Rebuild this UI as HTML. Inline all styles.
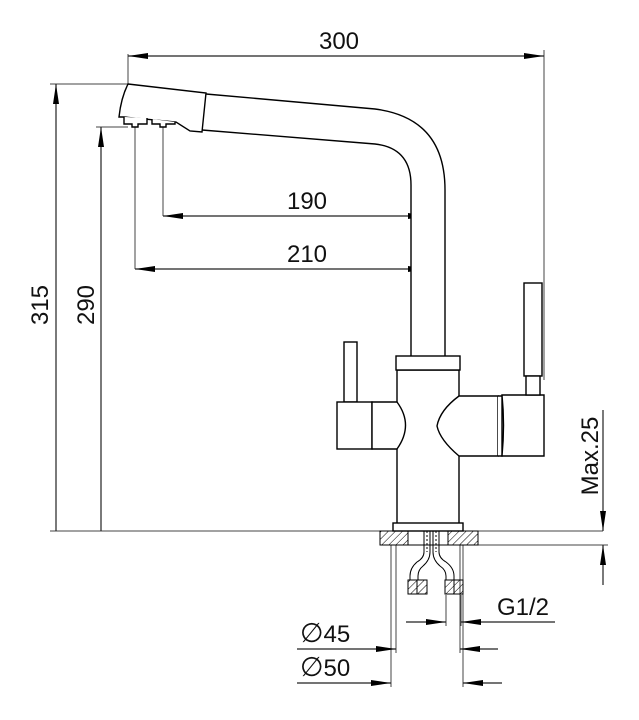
<!DOCTYPE html>
<html><head><style>html,body{margin:0;padding:0;background:#fff}svg{display:block}text{font-family:"Liberation Sans",sans-serif;font-size:24px;fill:#111}</style></head><body>
<svg width="639" height="720" viewBox="0 0 639 720" xmlns="http://www.w3.org/2000/svg">
<defs>
<marker id="a" viewBox="0 0 20 6" refX="20" refY="3" markerWidth="20" markerHeight="6" markerUnits="userSpaceOnUse" orient="auto-start-reverse"><path d="M0,0L20,3L0,6z" fill="#000"/></marker>
<pattern id="h" width="5" height="5" patternUnits="userSpaceOnUse" patternTransform="rotate(45)"><line x1="0" y1="0" x2="0" y2="5" stroke="#000" stroke-width="1"/></pattern>
</defs>
<g stroke="#444" stroke-width="1" fill="none">
<line x1="128" y1="54" x2="128" y2="84"/>
<line x1="544" y1="50" x2="544" y2="380"/>
<line x1="50" y1="84" x2="128" y2="84"/>
<line x1="96" y1="127" x2="128" y2="127"/>
<line x1="163" y1="127" x2="163" y2="216"/>
<line x1="135" y1="127" x2="135" y2="269"/>
<line x1="428" y1="210" x2="428" y2="368"/>
<line x1="50" y1="531" x2="603" y2="531"/>
<line x1="478" y1="545" x2="608" y2="545"/>
<line x1="391" y1="545" x2="391" y2="687"/>
<line x1="396" y1="545" x2="396" y2="653"/>
<line x1="460" y1="545" x2="460" y2="653"/>
<line x1="463" y1="545" x2="463" y2="687"/>
<line x1="446" y1="595" x2="446" y2="626"/>
<line x1="461" y1="595" x2="461" y2="626"/>
</g>
<g stroke="#222" stroke-width="1.2" fill="none">
<line x1="128" y1="56" x2="544" y2="56" marker-start="url(#a)" marker-end="url(#a)"/>
<line x1="56" y1="84" x2="56" y2="531" marker-start="url(#a)"/>
<line x1="101" y1="127" x2="101" y2="531" marker-start="url(#a)"/>
<line x1="163" y1="216" x2="428" y2="216" marker-start="url(#a)" marker-end="url(#a)"/>
<line x1="135" y1="269" x2="428" y2="269" marker-start="url(#a)" marker-end="url(#a)"/>
<line x1="603" y1="410" x2="603" y2="531" marker-end="url(#a)"/>
<line x1="603" y1="585" x2="603" y2="545" marker-end="url(#a)"/>
<line x1="406" y1="622" x2="446" y2="622" marker-end="url(#a)"/>
<line x1="555" y1="622" x2="461" y2="622" marker-end="url(#a)"/>
<line x1="297" y1="649" x2="396" y2="649" marker-end="url(#a)"/>
<line x1="498" y1="649" x2="460" y2="649" marker-end="url(#a)"/>
<line x1="297" y1="683" x2="391" y2="683" marker-end="url(#a)"/>
<line x1="502" y1="683" x2="463" y2="683" marker-end="url(#a)"/>
</g>
<g stroke="#000" stroke-width="1.4" fill="#fff">
<path d="M206,94 L375,109 Q445,118 445,190 L445,357 L411,357 L411,185 Q411,148 375,144 L202,130"/>
<path d="M128,84 L206,93 L202,132 L190,131 L176,122 L124,117 L119,117 Q121,98 128,84 Z"/>
<path d="M124,117 L124,124 L132,124 L132,127 L138,127 L138,124 L147,124 L147,118 M152,119 L152,124 L160,124 L160,127 L166,127 L166,124 L175,124 L175,122"/>
<path d="M397,370 L459,370 L459,396 M459,456 L459,524 L397,524 L397,449 M397,402 L397,370" />
<rect x="396" y="356" width="64" height="14"/>
<rect x="344" y="342" width="13" height="60"/>
<rect x="337" y="402" width="35" height="47"/>
<path d="M372,402 L397,402 Q414,425 397,449 L372,449 Z"/>
<path d="M459,396 L498,396 L498,456 L459,456 Q440,440 437,426 Q440,410 459,396 Z"/>
<path d="M498,396 L502,396 L502,456 L498,456"/>
<path d="M502,395 L544,395 L544,456 L502,456 Q505,425 502,395 Z"/>
<rect x="524" y="283" width="18" height="93"/>
<rect x="526" y="376" width="14" height="19"/>
<rect x="393" y="523" width="70" height="8"/>
</g>
<g stroke="#000" stroke-width="1">
<rect x="380" y="531" width="28" height="14" fill="url(#h)"/>
<rect x="448" y="531" width="30" height="14" fill="url(#h)"/>
<line x1="408" y1="531" x2="448" y2="531"/>
<line x1="408" y1="545" x2="448" y2="545"/>
</g>
<g stroke="#000" stroke-width="1" fill="none">
<path d="M424,531 L424,552 Q424,558 417,562 Q410,568 410,576 L410,580"/>
<path d="M430,531 L430,552 Q430,560 423,566 Q418,570 418,576 L418,580"/>
<path d="M433,531 L433,552 Q433,560 440,566 Q446,570 446,576 L446,580"/>
<path d="M439,531 L439,552 Q439,558 446,562 Q454,568 454,576 L454,580"/>
<path d="M427,531 L427,552 M436,531 L436,552" stroke-dasharray="2 2"/>
<rect x="408" y="580" width="19" height="14" fill="url(#h)"/>
<rect x="445" y="580" width="18" height="14" fill="url(#h)"/>
<line x1="417" y1="580" x2="417" y2="594"/>
<line x1="454" y1="580" x2="454" y2="594"/>
</g>
<text x="339" y="49" text-anchor="middle">300</text>
<text x="307" y="209" text-anchor="middle">190</text>
<text x="307" y="262" text-anchor="middle">210</text>
<text transform="translate(48,305) rotate(-90)" text-anchor="middle">315</text>
<text transform="translate(94,305) rotate(-90)" text-anchor="middle">290</text>
<text transform="translate(598,456) rotate(-90)" text-anchor="middle">Max.25</text>
<text x="497" y="615">G1/2</text>
<text x="300" y="642"><tspan font-size="27">∅</tspan>45</text>
<text x="300" y="676"><tspan font-size="27">∅</tspan>50</text>
</svg>
</body></html>
